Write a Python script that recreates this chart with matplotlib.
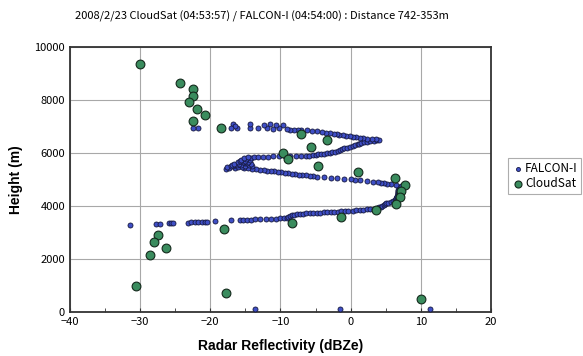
import matplotlib
matplotlib.use("Agg")
import matplotlib.pyplot as plt
from matplotlib.ticker import MultipleLocator

# FALCON-I profile (reflectivity dBZe, height m)
falcon_dbz = [
    -13.6, -1.5, 11.3,
    # bottom, sparse part
    -31.5, -27.7, -27.2, -25.9, -25.6, -25.3, -23.2, -22.7, -22.2, -21.7, -21.2,
    -20.8, -20.4, -19.3, -17.0, -15.8, -15.3, -14.8, -14.2, -13.6, -12.9, -12.0,
    -11.4, -10.7, -10.1, -9.5, -9.0,
    # rising to the right
    -8.9, -8.6, -8.3, -8.0, -7.6, -7.2,
    -6.8, -6.3, -5.8, -5.3, -4.8, -4.3, -3.8, -3.3, -2.8, -2.3, -1.8, -1.3, -0.8, -0.3,
    0.3, 0.8, 1.3, 1.8, 2.3, 2.8, 3.3, 3.7,
    4.0, 4.3, 4.5, 4.7, 4.9, 5.1,
    5.4, 5.7, 6.0, 6.3, 6.5,
    # vertical part
    6.5, 6.5, 6.6, 6.6, 6.6, 6.7, 6.7, 6.7, 6.8, 6.8, 6.8, 6.8, 6.9, 6.9, 7.0, 7.1, 7.2,
    # going back left
    6.5, 5.8, 5.2, 4.8, 4.3, 3.9, 3.2, 2.3, 1.4, 0.6, 0.0, -0.9, -1.9, -2.8, -3.8,
    -4.8, -5.4, -5.8, -6.4, -6.9, -7.4, -7.9, -8.4, -8.9, -9.4, -9.9, -10.4, -10.9,
    -11.4, -11.9, -12.4, -12.9, -13.5, -14.1,
    # cluster
    -17.8, -16.5, -15.2, -17.3, -14.6, -16.0, -17.6, -15.5, -14.0, -16.8, -15.0,
    -17.1, -14.5, -16.2, -15.6, -16.9, -14.2, -15.9, -16.6, -15.1, -14.8, -16.0,
    -15.4, -14.6, -15.8, -15.0, -14.4, -15.6, -14.9, -14.2, -15.2, -14.6, -13.8,
    # middle line to the right
    -13.2, -12.5, -11.8, -11.0, -10.2, -9.4, -8.6, -7.8, -7.0, -6.4, -5.9, -5.4,
    -5.0, -4.6, -4.2, -3.8, -3.4, -3.0, -2.6, -2.2, -1.8, -1.5, -1.2, -0.9, -0.5,
    -0.1, 0.3, 0.7, 1.0, 1.2, 1.5, 1.9, 2.3, 2.8, 3.3, 3.8, 4.1,
    # upper line back to the left
    3.6, 3.0, 2.4, 1.8, 1.3, 0.8, 0.4, -0.1, -0.6, -1.1, -1.6, -2.0, -2.4, -2.9,
    -3.5, -4.1, -4.8, -5.5, -6.2, -7.0,
    # top scatter
    -7.5, -8.0, -8.6, -9.1, -9.6, -10.2, -10.6, -11.0, -11.5, -11.9, -12.4, -13.2,
    -14.4, -14.4, -16.2, -16.8, -16.5, -17.1, -21.8, -22.4,
]
falcon_height = [
    100, 100, 100,
    3280, 3320, 3330, 3340, 3345, 3350, 3370, 3375, 3380, 3390, 3395,
    3400, 3405, 3430, 3460, 3470, 3475, 3480, 3485, 3490, 3495, 3505,
    3515, 3520, 3530, 3540, 3555,
    3580, 3610, 3640, 3660, 3685, 3705,
    3712, 3720, 3727, 3735, 3742, 3750, 3757, 3765, 3772, 3780, 3787, 3795, 3802, 3810,
    3820, 3832, 3845, 3857, 3870, 3882, 3895, 3910,
    3940, 3970, 4000, 4030, 4065, 4100,
    4125, 4150, 4175, 4205, 4230,
    4260, 4290, 4320, 4350, 4380, 4410, 4440, 4470, 4500, 4530, 4560, 4590, 4620, 4650,
    4690, 4730, 4770,
    4800, 4820, 4840, 4860, 4880, 4900, 4920, 4940, 4960, 4980, 5000, 5020, 5040, 5060,
    5080, 5100, 5115, 5130, 5150, 5165, 5180, 5200, 5215, 5230, 5250, 5265, 5280, 5300,
    5315, 5330, 5345, 5360, 5375, 5390,
    5410, 5420, 5430, 5440, 5450, 5460, 5470, 5480, 5490, 5500, 5510,
    5520, 5530, 5540, 5550, 5560, 5570, 5580, 5600, 5610, 5620, 5640,
    5650, 5670, 5690, 5710, 5730, 5750, 5770, 5790, 5810, 5830, 5850,
    5860, 5862, 5865, 5868, 5870, 5873, 5876, 5880, 5885, 5890, 5900, 5915,
    5930, 5945, 5960, 5975, 5990, 6010, 6030, 6050, 6080, 6110, 6140, 6170, 6200,
    6230, 6260, 6290, 6320, 6350, 6380, 6400, 6420, 6440, 6460, 6480, 6495,
    6510, 6525, 6540, 6555, 6570, 6590, 6610, 6630, 6650, 6670, 6690, 6710, 6730, 6750,
    6770, 6790, 6810, 6830, 6850, 6870,
    6875, 6880, 6880, 6910, 7050, 6930, 7070, 6920, 7080, 6930, 7060, 6960,
    6940, 7110, 6930, 7080, 7010, 6960, 6930, 6930,
]

# CloudSat bins
cloudsat_dbz = [
    -30.0, -24.3, -22.5, -22.5, -23.0, -21.9, -20.8, -22.5, -18.4, -7.1, -3.4, -5.7,
    -9.7, -8.9, -4.6, 1.1, 6.4, 7.8, 7.25, 7.1, 6.5, 3.6, -1.4, -8.3, 10.0, -18.0,
    -27.5, -28.0, -26.3, -28.6, -30.6, -17.8,
]
cloudsat_height = [
    9360, 8640, 8415, 8150, 7925, 7660, 7430, 7200, 6955, 6705, 6490, 6240,
    6010, 5775, 5520, 5270, 5045, 4805, 4565, 4330, 4090, 3850, 3600, 3370, 490, 3120,
    2890, 2640, 2400, 2160, 970, 730,
]

title = "2008/2/23 CloudSat (04:53:57) / FALCON-I (04:54:00) : Distance 742-353m"

plt.rcParams['font.family'] = ['Noto Sans CJK JP', 'DejaVu Sans']

fig = plt.figure(figsize=(5.83, 3.56), dpi=100)
ax = fig.add_axes([0.120, 0.124, 0.722, 0.744])

ax.scatter(falcon_dbz, falcon_height, s=13, c='#3f4fc6', edgecolors='#15183f',
           linewidths=0.6, label='FALCON-I', zorder=3)
ax.scatter(cloudsat_dbz, cloudsat_height, s=40, c='#3a8c5e', edgecolors='#14291c',
           linewidths=0.8, label='CloudSat', zorder=4)

ax.set_xlim(-40, 20)
ax.set_ylim(0, 10000)
ax.xaxis.set_major_locator(MultipleLocator(10))
ax.xaxis.set_minor_locator(MultipleLocator(5))
ax.yaxis.set_major_locator(MultipleLocator(2000))
ax.tick_params(axis='both', which='both', direction='in', labelsize=8, length=3,
               color='#333333')
ax.tick_params(axis='y', which='major', length=0)
ax.grid(True, which='major', color='#a8a8a8', linewidth=0.8)
ax.set_axisbelow(True)
for sp in ax.spines.values():
    sp.set_color('#333333')
    sp.set_linewidth(1.3)

ax.set_xlabel("Radar Reflectivity (dBZe)", fontsize=10, fontweight='bold',
              family='Liberation Sans', labelpad=9)
ax.set_ylabel("Height (m)", fontsize=10, fontweight='bold', family='Liberation Sans',
              labelpad=8)
fig.text(0.45, 0.955, title, ha='center', va='center', fontsize=8)

leg = fig.legend(loc='center left', bbox_to_anchor=(0.862, 0.505), fontsize=8.5,
                 frameon=True, fancybox=False, handletextpad=0.1, borderpad=0.3,
                 handlelength=1.0, labelspacing=0.2, markerscale=0.8)
leg.get_frame().set_edgecolor('#999999')
leg.get_frame().set_linewidth(0.8)

fig.savefig("out.png", dpi=100)
